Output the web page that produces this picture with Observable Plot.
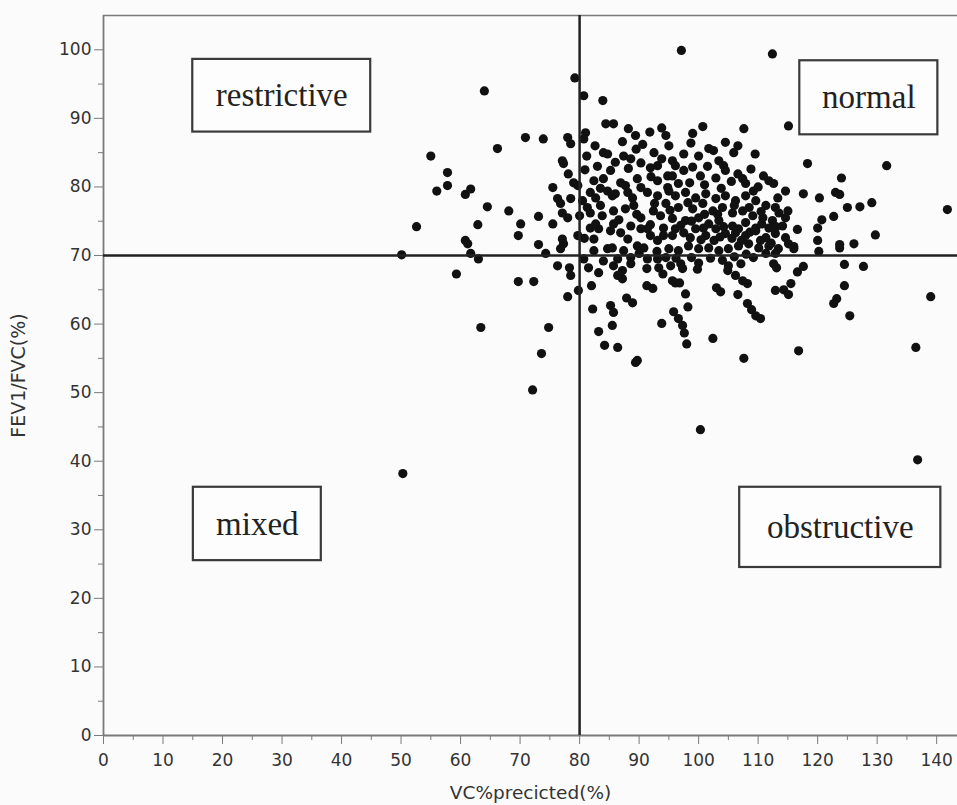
<!DOCTYPE html>
<html>
<head>
<meta charset="utf-8">
<script src="https://cdn.jsdelivr.net/npm/d3@7"></script>
<script src="https://cdn.jsdelivr.net/npm/@observablehq/plot@0.6"></script>
<style>
  html, body { margin: 0; padding: 0; background: #fbfbfb; }
  #chart svg { display: block; }
</style>
</head>
<body>
<div id="chart"></div>
<script>
// VC % predicted (x) for each subject
const vcPredicted = [
50.3,50.1,64.0,55.0,57.8,57.8,56.0,60.8,61.7,52.6,64.5,68.1,62.9,66.2,70.9,73.9,70.1,69.7,73.1,75.5,
75.5,60.8,61.2,73.1,74.3,61.7,63.0,59.3,69.7,72.3,76.3,78.3,78.5,79.8,79.7,77.1,77.3,78.1,78.0,78.5,
81.0,80.7,84.4,85.7,84.0,84.7,89.4,79.2,80.7,83.9,76.3,76.8,77.3,63.4,74.8,73.6,72.1,78.0,82.2,83.2,
84.2,86.4,89.4,89.7,85.2,85.7,85.5,87.9,88.9,85.7,86.4,87.2,83.2,81.5,91.3,92.3,91.3,93.3,94.0,95.3,
96.1,96.8,97.8,98.2,95.8,93.8,96.6,97.3,97.6,98.0,102.4,107.6,103.0,103.7,106.6,107.1,104.9,106.2,107.4,108.2,
108.2,108.9,109.6,110.4,100.0,99.8,112.6,113.1,112.9,114.3,115.1,115.5,116.6,117.6,116.8,139.0,136.5,136.8,125.4,123.2,
122.7,124.5,124.5,127.7,100.3,97.0,97.3,105.0,95.6,87.2,88.6,80.7,86.4,88.6,91.4,93.1,94.5,77.1,76.8,82.4,
81.8,83.2,85.2,84.7,85.5,82.4,86.9,88.1,89.7,90.8,87.4,91.9,93.1,94.1,90.3,91.9,93.8,87.4,88.6,90.3,
91.9,93.1,85.2,88.2,79.0,79.7,82.4,84.0,86.9,87.7,89.7,90.3,93.1,94.8,78.5,81.8,82.7,84.7,85.5,88.1,
88.9,91.4,93.1,94.8,77.1,78.0,81.3,81.8,83.5,85.7,87.7,89.1,90.3,92.4,93.6,94.5,82.7,85.7,88.6,91.4,
94.1,100.7,107.6,115.1,98.7,101.7,102.5,106.6,105.9,100.0,103.4,104.2,95.6,96.1,100.3,97.5,102.9,104.5,106.6,107.4,
107.9,110.9,111.8,112.6,109.2,114.6,113.3,95.6,96.6,95.0,96.1,97.8,99.5,101.2,102.9,104.5,106.2,107.9,109.6,111.3,
112.9,115.0,96.6,99.0,100.7,102.4,104.0,105.7,107.4,109.1,110.8,112.4,114.6,95.6,97.8,100.0,101.7,103.4,105.7,107.9,
109.6,111.8,114.1,96.1,99.5,102.9,106.7,95.0,96.6,98.3,100.0,101.7,103.4,105.0,106.7,108.4,110.1,111.8,113.4,115.1,
95.6,97.5,101.2,104.5,106.2,107.9,109.6,111.3,112.9,114.6,116.0,109.2,111.3,112.9,118.3,131.6,124.0,123.0,123.7,117.6,
120.3,129.1,127.1,125.0,141.8,122.7,120.7,120.0,116.6,129.7,120.0,126.1,123.7,123.7,116.0,120.2,93.8,97.1,112.4,
83.0,86.0,89.5,92.5,95.0,97.5,99.0,101.5,105.5,108.8,110.0,98.5,101.0,103.8,92.0,86.0,83.5,80.5,80.0,83.8,
86.6,89.6,92.6,95.2,98.2,101.0,103.2,106.0,108.5,110.5,113.5,97.0,98.8,100.8,104.2,108.6,110.6,113.0,98.6,100.4,
102.6,103.6,105.6,107.2,110.4,112.2,93.0,90.0,96.2,98.8,102.0,104.0,106.0,108.0,84.0,82.0,80.8,81.2,80.9,82.6,
87.2,90.6,94.5,99.0,104.5,109.5,88.2,91.8
];
// FEV1/FVC (%) for each subject
const fevRatio = [
38.2,70.1,94.0,84.5,82.1,80.2,79.4,78.9,79.7,74.2,77.1,76.5,74.5,85.6,87.2,87.0,74.6,72.9,75.7,79.9,
74.6,72.2,71.7,71.6,70.3,70.3,69.5,67.3,66.2,66.2,68.5,68.2,67.1,64.9,72.9,83.8,83.4,81.9,87.2,86.3,
87.9,87.0,89.2,89.2,85.0,84.8,87.5,95.9,93.3,92.6,78.3,77.6,71.7,59.5,59.5,55.7,50.4,64.0,62.2,58.9,
56.9,56.6,54.4,54.7,62.7,61.7,59.8,63.8,63.1,68.5,67.1,66.6,67.5,68.2,65.6,65.2,68.1,68.2,67.3,68.5,
66.0,66.0,64.4,62.5,61.8,60.1,60.8,59.8,58.7,57.1,57.9,55.0,65.3,64.7,64.3,68.8,67.8,67.1,66.3,65.9,
63.0,62.1,61.2,60.8,68.9,68.0,68.8,68.2,64.9,65.0,64.3,65.9,67.6,68.4,56.1,64.0,56.6,40.2,61.2,63.7,
63.0,65.6,68.7,68.4,44.6,68.8,68.1,68.5,66.3,67.8,68.8,69.5,69.5,69.7,69.5,69.5,69.7,72.4,71.0,72.4,
74.0,73.9,73.6,71.0,71.1,70.7,73.3,72.4,71.4,71.1,70.7,72.9,72.2,72.9,73.9,74.5,88.6,84.5,84.1,83.5,
82.8,83.1,82.4,82.7,80.6,80.2,80.9,81.2,80.6,80.2,81.2,79.9,80.9,81.6,78.3,79.2,78.4,79.4,78.7,79.2,
78.4,79.2,78.7,79.9,76.2,75.5,77.0,76.2,77.3,76.5,76.8,77.3,75.5,76.5,75.8,77.6,74.6,74.6,74.3,73.9,
74.0,88.8,88.5,88.9,86.4,85.6,85.3,86.0,85.0,84.5,83.8,83.1,83.8,83.1,81.6,82.4,81.3,82.4,81.9,81.2,
80.5,81.6,80.9,80.5,79.4,79.4,78.4,81.6,80.5,79.4,78.7,79.2,78.4,79.0,78.3,78.7,78.0,78.7,78.0,77.3,
77.0,76.5,77.0,76.8,77.6,76.5,77.0,76.2,76.5,75.8,75.5,75.1,75.5,75.4,75.1,75.5,74.6,75.1,74.3,74.8,
74.0,74.0,74.3,73.9,73.9,73.9,73.9,71.0,70.7,71.4,71.0,71.1,70.7,71.0,71.4,71.7,71.1,71.4,71.0,71.7,
72.9,73.3,72.9,73.2,73.3,72.9,73.6,72.6,73.2,72.6,71.0,69.7,70.3,70.3,83.4,83.1,81.3,79.2,78.9,79.0,
78.4,77.7,77.1,77.0,76.7,75.7,75.2,74.0,73.8,73.0,72.2,71.7,71.6,71.1,71.3,70.6,84.1,99.9,99.4,
83.0,83.6,85.5,85.0,86.0,84.8,82.9,83.0,80.8,82.6,80.0,80.6,80.3,79.8,81.5,79.0,79.8,78.0,75.8,75.8,
75.2,76.0,77.6,76.6,77.7,76.0,76.0,77.3,77.0,76.4,76.2,74.4,75.0,74.0,74.2,73.4,74.6,74.2,72.6,72.3,
72.2,72.7,72.5,72.2,72.2,71.8,70.6,70.3,69.6,69.7,69.6,69.3,69.8,70.2,69.2,65.6,72.5,84.5,82.5,86.0,
86.6,86.2,87.5,87.8,86.5,84.8,88.5,88.0
];

// axes ticks
const xTicks = [0,10,20,30,40,50,60,70,80,90,100,110,120,130,140];
const xMinorTicks = [5,15,25,35,45,55,65,75,85,95,105,115,125,135];
const yTicks = [0,10,20,30,40,50,60,70,80,90,100];
const yMinorTicks = [5,15,25,35,45,55,65,75,85,95];

// cut-off lines
const vcCutoff = [80];
const fevCutoff = [70];

// quadrant annotation boxes
const boxLabels = ["restrictive", "normal", "mixed", "obstructive"];
const boxX1 = [15.0, 117.0, 15.1, 106.9];
const boxX2 = [44.9, 140.2, 36.6, 140.7];
const boxY1 = [88.0, 87.6, 25.5, 24.5];
const boxY2 = [98.6, 98.4, 36.2, 36.2];

const points = vcPredicted.map((v, i) => ({vc: v, fev: fevRatio[i]}));
const boxes = boxLabels.map((t, i) => ({
  label: t, x1: boxX1[i], x2: boxX2[i], y1: boxY1[i], y2: boxY2[i],
  cx: (boxX1[i] + boxX2[i]) / 2, cy: (boxY1[i] + boxY2[i]) / 2
}));

const axisColor = "#7a7a7a";
const textColor = "#333";

const chart = Plot.plot({
  width: 957,
  height: 805,
  marginLeft: 103,
  marginRight: 0,
  marginTop: 15,
  marginBottom: 70,
  style: {background: "#fbfbfb", fontFamily: "DejaVu Sans, Verdana, sans-serif"},
  x: {domain: [0, 143.5]},
  y: {domain: [0, 105]},
  marks: [
    // frame lines
    Plot.ruleY([105], {stroke: axisColor, strokeWidth: 1.5}),
    Plot.ruleX([0], {stroke: axisColor, strokeWidth: 1.8}),
    Plot.ruleY([0], {stroke: axisColor, strokeWidth: 1.8}),
    // minor ticks
    Plot.axisX(xMinorTicks, {tickSize: 5, tickFormat: () => "", stroke: axisColor, label: null}),
    Plot.axisY(yMinorTicks, {tickSize: 5, tickFormat: () => "", stroke: axisColor, label: null}),
    // major ticks
    Plot.axisX(xTicks, {tickSize: 9, tickPadding: 9, fontSize: 17, stroke: axisColor, fill: textColor, label: null}),
    Plot.axisY(yTicks, {tickSize: 9, tickPadding: 3, fontSize: 17, stroke: axisColor, fill: textColor, label: null}),
    // axis titles
    Plot.text(["VC%precicted(%)"], {frameAnchor: "bottom", dy: 58, fontSize: 18.5, fill: textColor, textAnchor: "middle", lineAnchor: "middle"}),
    Plot.text(["FEV1/FVC(%)"], {frameAnchor: "left", dx: -85, rotate: -90, fontSize: 19, fill: textColor, textAnchor: "middle", lineAnchor: "middle"}),
    // data points
    Plot.dot(points, {x: "vc", y: "fev", r: 4.6, fill: "#111", stroke: "none"}),
    // cut-off lines
    Plot.ruleX(vcCutoff, {stroke: "#222", strokeWidth: 2.5}),
    Plot.ruleY(fevCutoff, {stroke: "#222", strokeWidth: 2.5}),
    // quadrant boxes
    Plot.rect(boxes, {x1: "x1", x2: "x2", y1: "y1", y2: "y2", fill: "#fdfdfd", stroke: "#3a3a3a", strokeWidth: 2.2}),
    Plot.text(boxes, {x: "cx", y: "cy", text: "label", fontFamily: "Liberation Serif, Times New Roman, serif", fontSize: 33, fill: "#222"})
  ]
});
document.getElementById("chart").appendChild(chart);
</script>
</body>
</html>
